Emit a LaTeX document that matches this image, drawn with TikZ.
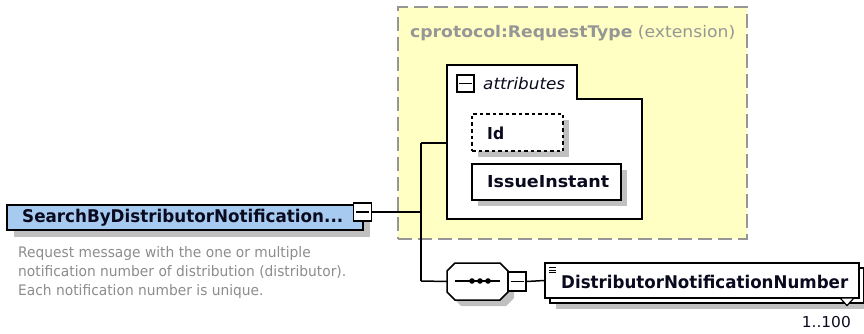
\documentclass[tikz,border=0pt]{standalone}
\usepackage{fontspec}
\setmainfont{DejaVu Sans}
\usepackage{graphicx}
\definecolor{yel}{RGB}{255,255,196}
\definecolor{dashgray}{RGB}{150,150,150}
\definecolor{titlegray}{RGB}{150,150,150}
\definecolor{descgray}{RGB}{140,140,140}
\definecolor{mainblue}{RGB}{166,202,240}
\definecolor{shadowgray}{RGB}{192,192,192}
\definecolor{txt}{RGB}{10,10,30}
\newcommand{\fitx}[2]{\resizebox{#1pt}{\height}{#2}}
\tikzset{
  box/.style={draw=black, line width=1.5pt, inner sep=0pt, rectangle},
  shadowbox/.style={fill=shadowgray, draw=none, inner sep=0pt, rectangle},
  minusbox/.style={draw=black, line width=1.4pt, fill=white, inner sep=0pt, minimum width=17pt, minimum height=17pt,
     path picture={\draw[line width=1.4pt] ([xshift=-6.5pt]path picture bounding box.center) -- ([xshift=6.5pt]path picture bounding box.center);}},
  lbl/.style={inner sep=0pt, anchor=west, text=txt},
  conn/.style={draw=black, line width=1.5pt},
}
\begin{document}
\begin{tikzpicture}[x=1pt, y=-1pt]
\useasboundingbox (0,0) rectangle (864,334);
\clip (0,0) rectangle (864,334);
% extension box
\node[draw=dashgray, fill=yel, line width=1.6pt, dash pattern=on 14pt off 6pt, rectangle, inner sep=0pt,
  minimum width=349pt, minimum height=232pt] (ext) at (572.5,123) {};
\node[lbl, text=titlegray] (exttitle) at (410,33) {\fitx{325}{\fontsize{16}{18}\selectfont\textbf{cprotocol:RequestType} (extension)}};
% attributes group
\draw[fill=white, line width=1.5pt] (447,65) -- (577,65) -- (577,99) -- (642,99) -- (642,219) -- (447,219) -- cycle;
\coordinate (attrL) at (447,143);
\node[minusbox] (attrminus) at (465.5,83.5) {};
\node[lbl] (attrtext) at (483,84) {\fitx{82}{\fontsize{16}{18}\selectfont\itshape attributes}};
% Id
\node[shadowbox, minimum width=91pt, minimum height=37pt] (idsh) at (523.5,138.5) {};
\node[box, dash pattern=on 3.5pt off 3pt, fill=white, minimum width=91pt, minimum height=37pt] (id) at (517.5,132.5) {};
\node[lbl] (idtext) at (487,133) {\fitx{17}{\fontsize{16.5}{18}\selectfont\bfseries Id}};
% IssueInstant
\node[shadowbox, minimum width=149pt, minimum height=36pt] (issh) at (552.5,188) {};
\node[box, fill=white, minimum width=149pt, minimum height=36pt] (is) at (546.5,182) {};
\node[lbl] (istext) at (487,182) {\fitx{122}{\fontsize{16.5}{18}\selectfont\bfseries IssueInstant}};
% main element
\node[shadowbox, minimum width=356pt, minimum height=25pt] (mainsh) at (192,224.5) {};
\node[box, fill=mainblue, minimum width=356pt, minimum height=25pt] (main) at (185,217.5) {};
\node[lbl] (maintext) at (22,217.5) {\fitx{321}{\fontsize{17.5}{18}\selectfont\bfseries SearchByDistributorNotification...}};
\node[minusbox, minimum width=18pt, minimum height=18pt] (mainminus) at (362.5,212) {};
% description
\node[lbl, text=descgray, anchor=base west] (desc) at (18,257) {%
  \fontsize{14.5}{19}\selectfont
  \fitx{328}{\begin{tabular}[t]{@{}l@{}}Request message with the one or multiple\\
  notification number of distribution (distributor).\\
  Each notification number is unique.\end{tabular}}};
% sequence
\coordinate (branch) at (421,212);
\coordinate (branchtop) at (421,143);
\coordinate (branchbot) at (421,281);
\fill[shadowgray] (461,269) -- (506,269) -- (514,277) -- (514,298) -- (506,306) -- (461,306) -- (453,298) -- (453,277) -- cycle;
\draw[fill=white, line width=1.5pt] (455,263) -- (500,263) -- (508,271) -- (508,292) -- (500,300) -- (455,300) -- (447,292) -- (447,271) -- cycle;
\node[inner sep=0pt, minimum width=61pt, minimum height=37pt] (seq) at (477.5,281.5) {};
\draw[line width=1.5pt] (455,281) -- (500,281);
\foreach \dx in {472,480,488} \fill (\dx,281) circle (2.8pt);
\node[minusbox, minimum width=18pt, minimum height=19pt] (seqminus) at (517,281.5) {};
% DNN element
\node[shadowbox, minimum width=314pt, minimum height=35pt] (dnnsh) at (713,291.5) {};
\node[box, fill=white, minimum width=314pt, minimum height=35pt] (dnnback) at (707,285.5) {};
\node[box, fill=white, minimum width=314pt, minimum height=35pt] (dnn) at (702,280.5) {};
\draw[line width=1pt] (549,267.5) -- (556,267.5) (549,270) -- (556,270) (549,272.5) -- (556,272.5);
\node[lbl] (dnntext) at (561,282) {\fitx{287}{\fontsize{17.5}{18}\selectfont\bfseries DistributorNotificationNumber}};
\draw[fill=white, line width=1.2pt] (840,298) -- (854,298) -- (847,305.5) -- cycle;
\node[lbl, anchor=east] (occ) at (851,322) {\fitx{49}{\fontsize{15}{16}\selectfont 1..100}};
% connectors
\draw[conn] (mainminus.east) -- (branch);
\draw[conn] (branchtop) -- (branchbot);
\draw[conn] (branchtop) -- (attrL);
\draw[conn] (branchbot) -- (seq.west);
\draw[conn] (seqminus.east) -- (dnn.west);
\end{tikzpicture}
\end{document}
